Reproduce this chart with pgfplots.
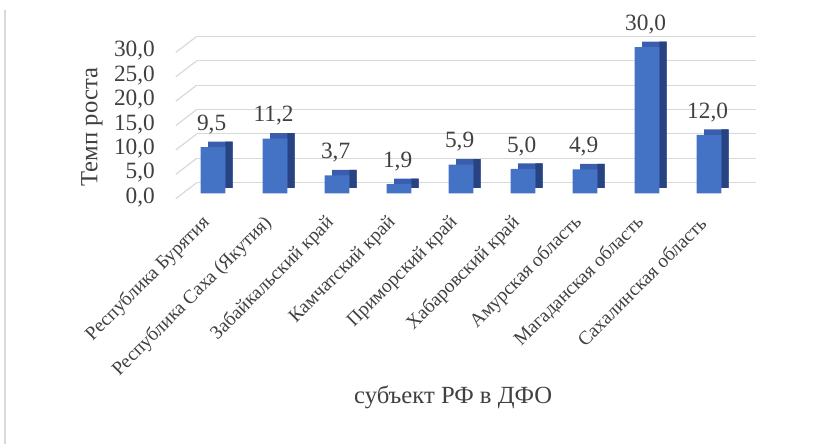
\documentclass[border=0pt]{standalone}
\usepackage{fontspec}
\setmainfont{Liberation Serif}
\usepackage{pgfplots}
\pgfplotsset{compat=1.18}
\definecolor{frontc}{HTML}{4472C4}
\definecolor{topc}{HTML}{3A5DAE}
\definecolor{sidec}{HTML}{284382}
\definecolor{gridc}{HTML}{D9D9D9}
\definecolor{txt}{HTML}{404040}
\begin{document}
\begin{tikzpicture}
\useasboundingbox (0,0) rectangle (616.5pt,333pt);
\draw[draw=gridc, line width=1.5pt] (3.75pt,0) -- (3.75pt,325.5pt);
\begin{axis}[
  at={(131.85pt,188pt)}, anchor=south west,
  x=46.5pt, y=3.658pt,
  xmin=-0.6, xmax=8.42, ymin=0, ymax=30,
  clip=false,
  axis line style={draw=none},
  major tick length=0pt,
  tick style={draw=none},
  ytick={0,5,...,30},
  xtick={0,...,8},
  xticklabels={Республика Бурятия, Республика Саха (Якутия), Забайкальский край, Камчатский край, Приморский край, Хабаровский край, Амурская область, Магаданская область, Сахалинская область},
  ymajorgrids,
  grid style={draw=gridc, line width=0.9pt, xshift=15.75pt, yshift=8pt},
  /pgf/number format/assume math mode=true,
  yticklabel style={/pgf/number format/fixed, /pgf/number format/fixed zerofill, /pgf/number format/precision=1, /pgf/number format/use comma, anchor=east, inner sep=0pt, xshift=-15.5pt, yshift=-3pt, font=\fontsize{17.5}{20}\selectfont, text=txt},
  xticklabel style={xshift=-4.5pt, yshift=-20pt, rotate=45, anchor=east, inner sep=0pt, font=\fontsize{14.5}{17}\selectfont, text=txt},
  xlabel={субъект РФ в ДФО},
  ylabel={Темп роста},
  every axis x label/.style={at={(axis description cs:0.496,-1.392)}, anchor=center, font=\fontsize{18.5}{22}\selectfont, text=txt},
  every axis y label/.style={at={(axis description cs:-0.15,0.453)}, rotate=90, anchor=center, font=\fontsize{18.5}{22}\selectfont, text=txt},
]
\addplot[quiver={u=0.3387, v=3.29}, draw=gridc, line width=0.9pt, no markers]
  coordinates {(-0.6,-1.1) (-0.6,3.9) (-0.6,8.9) (-0.6,13.9) (-0.6,18.9) (-0.6,23.9) (-0.6,28.9)};
\addplot[ybar, bar width=18.4pt, bar shift=0pt, fill=topc, draw=none, xshift=5.6pt, yshift=4.1pt]
  coordinates {(0,9.5) (1,11.2) (2,3.7) (3,1.9) (4,5.9) (5,5.0) (6,4.9) (7,30.0) (8,12.0)};
\addplot[ybar, bar width=5.6pt, bar shift=12pt, fill=sidec, draw=none, yshift=4.1pt]
  coordinates {(0,9.5) (1,11.2) (2,3.7) (3,1.9) (4,5.9) (5,5.0) (6,4.9) (7,30.0) (8,12.0)};
\addplot[ybar, bar width=18.4pt, bar shift=0pt, fill=frontc, draw=none,
  nodes near coords={\pgfmathprintnumber[fixed,fixed zerofill,precision=1,use comma,assume math mode=true]{\pgfplotspointmeta}},
  nodes near coords style={anchor=center, yshift=17pt, xshift=-1pt, font=\fontsize{17.5}{20}\selectfont, text=txt}]
  coordinates {(0,9.5) (1,11.2) (2,3.7) (3,1.9) (4,5.9) (5,5.0) (6,4.9) (7,30.0) (8,12.0)};
\end{axis}
\end{tikzpicture}
\end{document}
